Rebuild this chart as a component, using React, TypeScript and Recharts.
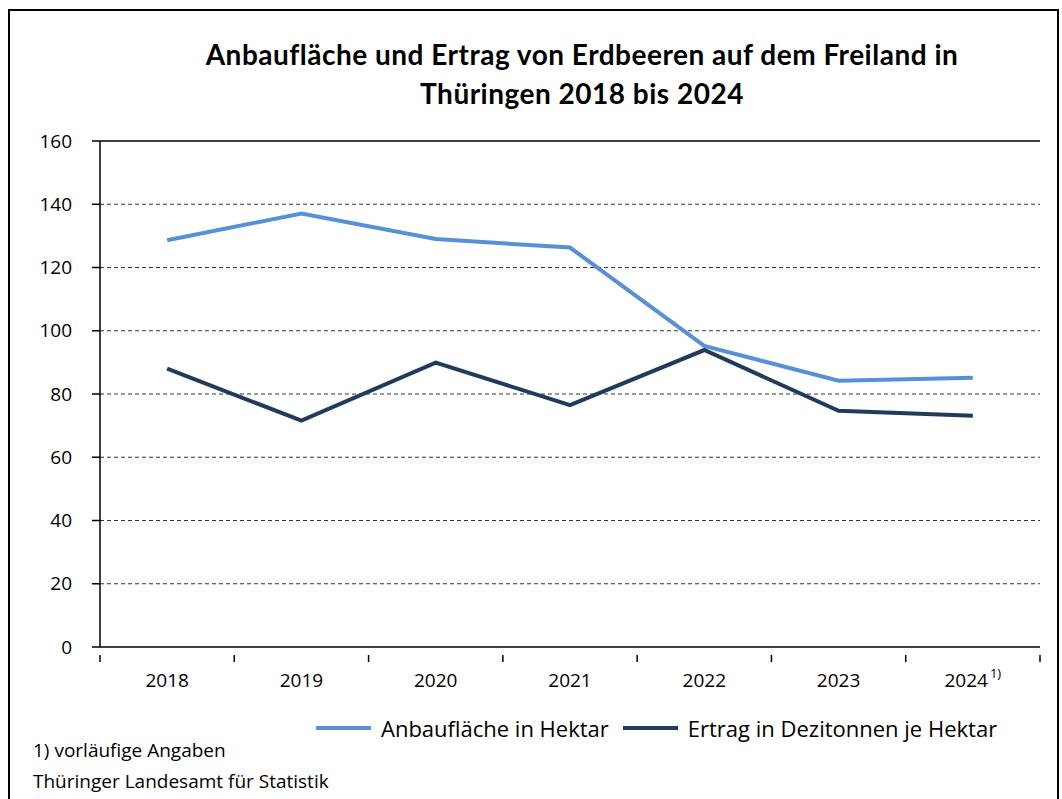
import { LineChart, Line, XAxis, YAxis, CartesianGrid, ReferenceLine } from "recharts";

const years = ["2018", "2019", "2020", "2021", "2022", "2023", "2024"];
const anbauflaeche = [128.6, 137.1, 129.0, 126.3, 95.2, 84.2, 85.1];
const ertrag = [88.0, 71.6, 89.9, 76.5, 93.9, 74.7, 73.1];
const yTicks = [0, 20, 40, 60, 80, 100, 120, 140, 160];
const footnoteYear = "2024";

const series = [
  { key: "anbau", name: "Anbaufläche in Hektar", color: "#5790d8" },
  { key: "ertrag", name: "Ertrag in Dezitonnen je Hektar", color: "#213b5c" },
];

const data = years.map((year, i) => ({
  year,
  pos: i + 0.5,
  anbau: anbauflaeche[i],
  ertrag: ertrag[i],
}));

// integer positions carry the tick marks, half positions the year labels
const xTicks = years.flatMap((_, i) => [i, i + 0.5]).concat(years.length);

const FONT = "'Open Sans', sans-serif";
const TITLE_FONT = "Lato, sans-serif";

function YearTick(props: any) {
  const { x, y, payload } = props;
  const v = payload.value as number;
  if (Number.isInteger(v)) {
    return <line x1={x} x2={x} y1={y} y2={y + 7} stroke="#000" strokeWidth={1.5} />;
  }
  const label = years[Math.floor(v)];
  return (
    <text x={x} y={y + 32} textAnchor="middle" fontSize={19} fontFamily={FONT} fill="#000">
      {label}
      {label === footnoteYear && (
        <tspan fontSize={13} dx={2} dy={-9}>1)</tspan>
      )}
    </text>
  );
}

export default function App() {
  return (
    <div style={{ position: "absolute", left: 0, top: 0, width: 1062, height: 799, background: "#fff", fontFamily: FONT }}>
      <div
        style={{
          position: "absolute",
          left: 8,
          top: 9,
          width: 1051,
          height: 800,
          border: "2px solid #000",
          boxSizing: "border-box",
        }}
      />
      <div
        style={{
          position: "absolute",
          left: 132,
          top: 35,
          width: 900,
          textAlign: "center",
          fontFamily: TITLE_FONT,
          fontSize: 28,
          letterSpacing: 0.5,
          fontWeight: 700,
          lineHeight: "39px",
          color: "#000",
        }}
      >
        Anbaufläche und Ertrag von Erdbeeren auf dem Freiland in
        <br />
        Thüringen 2018 bis 2024
      </div>
      <div style={{ position: "absolute", left: 0, top: 0 }}>
        <LineChart width={1062} height={799} data={data} margin={{ top: 141, right: 22, left: 0, bottom: 0 }}>
          <CartesianGrid vertical={false} horizontalValues={yTicks.slice(1, -1)} stroke="#333" strokeDasharray="4 3" />
          <ReferenceLine y={160} stroke="#000" strokeWidth={1.5} />
          <XAxis
            dataKey="pos"
            type="number"
            domain={[0, years.length]}
            ticks={xTicks}
            interval={0}
            height={152}
            axisLine={{ stroke: "#000", strokeWidth: 1.5 }}
            tickLine={false}
            tick={<YearTick />}
          />
          <YAxis
            domain={[0, 160]}
            ticks={yTicks}
            width={100}
            axisLine={{ stroke: "#000", strokeWidth: 1.5 }}
            tickLine={{ stroke: "#000", strokeWidth: 1.5 }}
            tickSize={8}
            tickMargin={20}
            tick={{ fontSize: 19, fontFamily: FONT, fill: "#000" }}
          />
          <YAxis
            yAxisId="frame"
            orientation="right"
            width={0}
            domain={[0, 160]}
            tick={false}
            tickLine={false}
            axisLine={{ stroke: "#000", strokeWidth: 1.5 }}
          />
          {series.map((s) => (
            <Line
              key={s.key}
              dataKey={s.key}
              name={s.name}
              stroke={s.color}
              strokeWidth={4}
              dot={false}
              activeDot={false}
              isAnimationActive={false}
            />
          ))}
        </LineChart>
      </div>
      <div style={{ position: "absolute", left: 316, top: 713, display: "flex", alignItems: "center", fontSize: 22, color: "#000" }}>
        {series.map((s) => (
          <div key={s.key} style={{ display: "flex", alignItems: "center", marginRight: 14 }}>
            <div style={{ width: 55, height: 4, background: s.color, marginRight: 10 }} />
            <span>{s.name}</span>
          </div>
        ))}
      </div>
      <div style={{ position: "absolute", left: 33, top: 737, fontSize: 19, color: "#000" }}>1) vorläufige Angaben</div>
      <div style={{ position: "absolute", left: 33, top: 768, fontSize: 19, color: "#000" }}>Thüringer Landesamt für Statistik</div>
    </div>
  );
}
